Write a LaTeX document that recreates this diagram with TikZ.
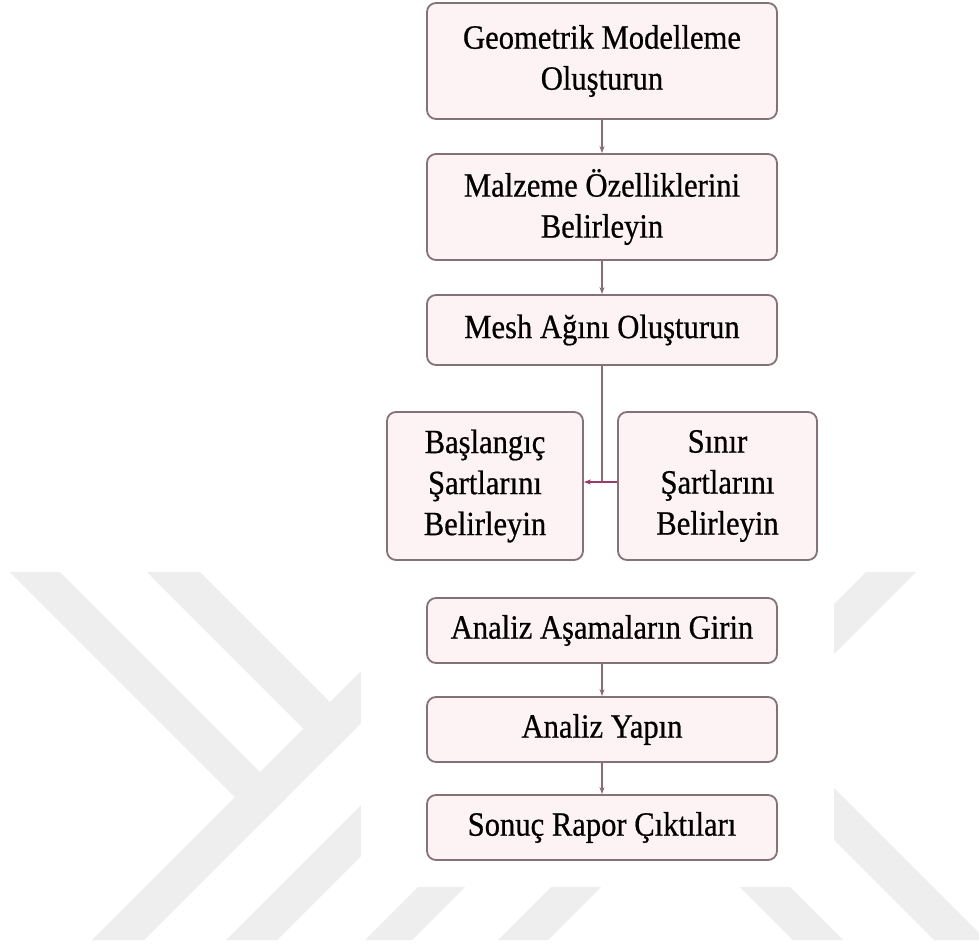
\documentclass[tikz,border=0pt]{standalone}
\usepackage{fontspec}
\setmainfont{Liberation Serif}[FakeStretch=0.9,FakeBold=0.6]
\usetikzlibrary{arrows.meta}
\definecolor{wm}{HTML}{EEEEEE}
\definecolor{boxfill}{HTML}{FDF2F4}
\definecolor{boxline}{HTML}{857278}
\definecolor{arrcol}{HTML}{8B6B78}
\definecolor{midarr}{HTML}{9A3A6A}
\tikzset{
  box/.style={draw=boxline, line width=1.8pt, fill=boxfill, rounded corners=9pt,
    align=center, inner sep=0pt, font=\fontsize{34}{41}\selectfont},
  wide/.style={box, minimum width=350pt},
  arr/.style={draw=arrcol, line width=1.3pt, -{Stealth[length=7pt,width=5pt]}},
  wmband/.style={fill=wm, draw=none}
}
\begin{document}
\begin{tikzpicture}[x=1pt,y=-1pt]
\useasboundingbox (0,0) rectangle (979,947);
\fill[white] (0,0) rectangle (979,947);
% watermark
\begin{scope}
  \clip (0,0) -- (1084,0) -- (0,1084) -- cycle;
  \fill[wmband] (10,572) -- (60,572) -- (428,940) -- (378,940) -- cycle;
  \fill[wmband] (147,572) -- (200,572) -- (568,940) -- (515,940) -- cycle;
\end{scope}
\fill[wmband] (460,572) -- (512,572) -- (144,940) -- (92,940) -- cycle;
\fill[wmband] (594,572) -- (645,572) -- (277,940) -- (226,940) -- cycle;
\fill[wmband] (733,572) -- (780,572) -- (412,940) -- (365,940) -- cycle;
\fill[wmband] (866,572) -- (916,572) -- (548,940) -- (498,940) -- cycle;
\begin{scope}
  \clip (0,0) rectangle (979,947);
  \fill[wmband] (566,572) -- (618,572) -- (986,940) -- (934,940) -- cycle;
\end{scope}
\fill[wmband] (425,572) -- (475,572) -- (843,940) -- (793,940) -- cycle;
\fill[white] (361,0) rectangle (834,887);
% nodes
\node[wide, minimum height=116pt] (g1) at (602,61) {Geometrik Modelleme\\Oluşturun};
\node[wide, minimum height=106pt] (g2) at (602,207) {Malzeme Özelliklerini\\Belirleyin};
\node[wide, minimum height=70pt] (mesh) at (602,330) {Mesh Ağını Oluşturun};
\node[box, minimum width=196pt, minimum height=148pt] (bas) at (485,486) {Başlangıç\\Şartlarını\\Belirleyin};
\node[box, minimum width=199pt, minimum height=148pt] (sin) at (717.5,486) {Sınır\\Şartlarını\\Belirleyin};
\node[wide, minimum height=65pt] (an1) at (602,630.5) {Analiz Aşamaların Girin};
\node[wide, minimum height=65pt] (an2) at (602,729.5) {Analiz Yapın};
\node[wide, minimum height=65pt] (son) at (602,827.5) {Sonuç Rapor Çıktıları};
\coordinate (j) at (mesh.south |- 0,482);
% connectors
\draw[arr] (g1) -- (g2);
\draw[arr] (g2) -- (mesh);
\draw[draw=arrcol, line width=1.3pt] (mesh.south) -- (j);
\draw[draw=midarr, line width=1.8pt, -{Stealth[length=7pt,width=5pt]}] (sin.west |- j) -- (bas.east |- j);
\draw[arr] (an1) -- (an2);
\draw[arr] (an2) -- (son);
\end{tikzpicture}
\end{document}
